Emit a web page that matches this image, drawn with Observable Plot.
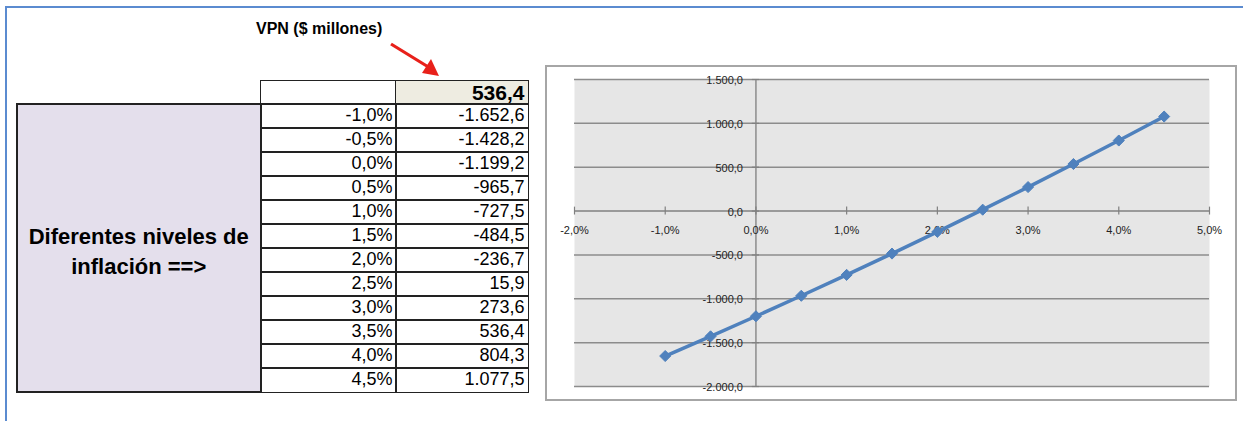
<!DOCTYPE html>
<html>
<head>
<meta charset="utf-8">
<script src="https://cdn.jsdelivr.net/npm/d3@7"></script>
<script src="https://cdn.jsdelivr.net/npm/@observablehq/plot@0.6"></script>
<style>
  html, body { margin: 0; padding: 0; background: #fff; }
  body { width: 1243px; height: 421px; position: relative; overflow: hidden; font-family: "Liberation Sans", Arial, sans-serif; }
  .abs { position: absolute; box-sizing: border-box; }
  .cell { position: absolute; box-sizing: border-box; border: 1.5px solid #222; font-size: 18px; text-align: right; padding-right: 3px; line-height: 22px; color: #000; }
</style>
</head>
<body>
<script>
// ---- data ----
const inflation = [-0.010, -0.005, 0.000, 0.005, 0.010, 0.015, 0.020, 0.025, 0.030, 0.035, 0.040, 0.045];
const inflationLabels = ["-1,0%", "-0,5%", "0,0%", "0,5%", "1,0%", "1,5%", "2,0%", "2,5%", "3,0%", "3,5%", "4,0%", "4,5%"];
const vpn = [-1652.6, -1428.2, -1199.2, -965.7, -727.5, -484.5, -236.7, 15.9, 273.6, 536.4, 804.3, 1077.5];
const selectedVpn = 536.4;
const xTicks = [-0.02, -0.01, 0.00, 0.01, 0.02, 0.03, 0.04, 0.05];
const xTickLabels = ["-2,0%", "-1,0%", "0,0%", "1,0%", "2,0%", "3,0%", "4,0%", "5,0%"];
const yTicks = [-2000, -1500, -1000, -500, 0, 500, 1000, 1500];
const yTickLabels = ["-2.000,0", "-1.500,0", "-1.000,0", "-500,0", "0,0", "500,0", "1.000,0", "1.500,0"];
const titleText = "VPN ($ millones)";
const sideLabel = ["Diferentes niveles de", "inflación ==>"];

const es = d3.formatLocale({decimal: ",", thousands: ".", grouping: [3], currency: ["$", ""], minus: "-"});
const fmt = es.format(",.1f");

function el(tag, cls, style, text) {
  const e = document.createElement(tag);
  if (cls) e.className = cls;
  Object.assign(e.style, style);
  if (text != null) e.textContent = text;
  document.body.appendChild(e);
  return e;
}

// blue frame
el("div", "abs", {left: "6px", top: "6px", width: "1237px", height: "2px", background: "#5B8BD0"});
el("div", "abs", {left: "5px", top: "6px", width: "2px", height: "415px", background: "#5B8BD0"});

// title
el("div", "abs", {left: "256px", top: "20px", fontSize: "16px", fontWeight: "bold", whiteSpace: "nowrap"}, titleText);

// red arrow (annotation)
const arrowNS = "http://www.w3.org/2000/svg";
const asvg = document.createElementNS(arrowNS, "svg");
asvg.setAttribute("width", "70"); asvg.setAttribute("height", "50");
Object.assign(asvg.style, {position: "absolute", left: "380px", top: "36px"});
asvg.innerHTML = '<line x1="11" y1="8" x2="50" y2="32" stroke="#E8201A" stroke-width="3.2"/><polygon points="59,40 42,37 51,23" fill="#E8201A"/>';
document.body.appendChild(asvg);

// table
const rowTop = 103, rowH = 24;
el("div", "cell", {left: "260px", top: "80px", width: "136.5px", height: "24.5px", background: "#fff"});
el("div", "cell", {left: "395px", top: "80px", width: "133.5px", height: "24.5px", background: "#EEECE1", fontWeight: "bold", fontSize: "21px", lineHeight: "23px"}, fmt(selectedVpn));
el("div", "cell", {left: "16px", top: rowTop + "px", width: "245.5px", height: (rowH * vpn.length + 1.5) + "px",
  background: "#E4DFEC", textAlign: "center", padding: "8px 0 0 0", display: "flex", flexDirection: "column", justifyContent: "center",
  fontWeight: "bold", fontSize: "22px", lineHeight: "30px", border: "2px solid #222", whiteSpace: "nowrap"}).innerHTML = sideLabel.join("<br>");
inflation.forEach((v, i) => {
  el("div", "cell", {left: "260px", top: (rowTop + i * rowH) + "px", width: "136.5px", height: (rowH + 1.5) + "px"}, inflationLabels[i]);
  el("div", "cell", {left: "395px", top: (rowTop + i * rowH) + "px", width: "133.5px", height: (rowH + 1.5) + "px"}, fmt(vpn[i]));
});

// chart box
el("div", "abs", {left: "545px", top: "65px", width: "692px", height: "336px", border: "2px solid #A6A6A6", background: "#fff"});

const data = inflation.map((x, i) => ({x, y: vpn[i]}));
const chart = Plot.plot({
  width: 692, height: 336,
  marginLeft: 29, marginRight: 28, marginTop: 14, marginBottom: 15,
  x: {domain: [-0.02, 0.05], axis: null},
  y: {domain: [-2000, 1500], axis: null},
  style: {background: "transparent", fontFamily: "'Liberation Sans', Arial, sans-serif", fontSize: "11px", overflow: "visible"},
  marks: [
    Plot.frame({fill: "#E6E6E6", stroke: null}),
    Plot.ruleY(yTicks.filter(d => d !== 0), {stroke: "#8C8C8C", strokeWidth: 1.5}),
    Plot.ruleX([0], {stroke: "#8C8C8C", strokeWidth: 1.5}),
    Plot.ruleY([0], {stroke: "#808080", strokeWidth: 1.5}),
    Plot.ruleX(xTicks, {y1: -45, y2: 45, stroke: "#808080", strokeWidth: 1.2}),
    Plot.ruleY(yTicks, {x1: -0.0004, x2: 0.0004, stroke: "#808080", strokeWidth: 1.2}),
    Plot.text(yTicks, {x: 0, y: d => d, text: (d, i) => yTickLabels[i], textAnchor: "end", dx: -13, dy: 1, fill: "#222", fontSize: 11}),
    Plot.text(xTicks, {x: d => d, y: 0, text: (d, i) => xTickLabels[i], dy: 19, fill: "#222", fontSize: 11}),
    Plot.line(data, {x: "x", y: "y", stroke: "#4F81BD", strokeWidth: 3.5}),
    Plot.dot(data, {x: "x", y: "y", symbol: "diamond2", r: 5, fill: "#4F81BD", stroke: "#4F81BD", strokeWidth: 1})
  ]
});
Object.assign(chart.style, {position: "absolute", left: "545px", top: "65px"});
document.body.appendChild(chart);
</script>
</body>
</html>
